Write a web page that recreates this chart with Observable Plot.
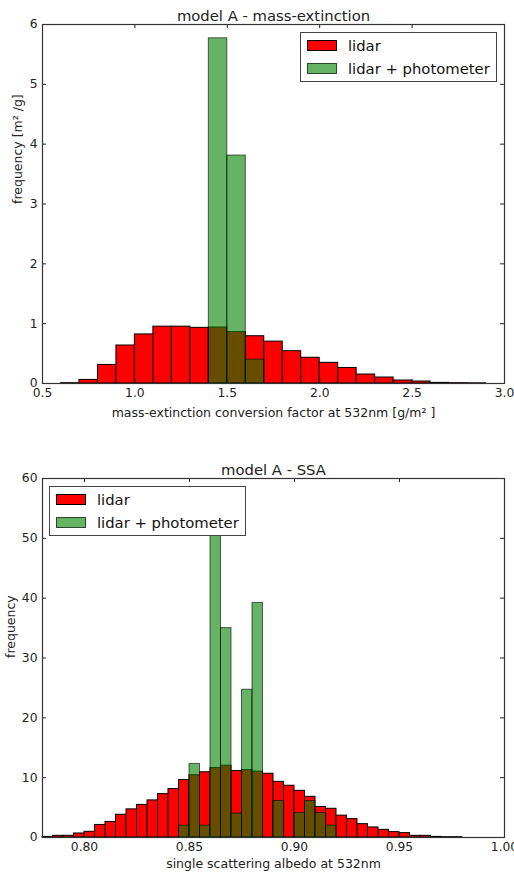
<!DOCTYPE html>
<html><head><meta charset="utf-8">
<script src="https://cdn.jsdelivr.net/npm/d3@7"></script>
<script src="https://cdn.jsdelivr.net/npm/@observablehq/plot@0.6"></script>
<style>
body{margin:0;background:#fff;font-family:"DejaVu Sans",sans-serif;}
#wrap{position:relative;width:514px;height:875px;overflow:hidden;}
.panel{position:relative;width:514px;}
.panel svg{display:block;}
.legend{position:absolute;border:1px solid #444;background:#fff;box-sizing:border-box;font:14.8px "DejaVu Sans",sans-serif;color:#111;}
.item{position:absolute;left:6px;display:flex;align-items:center;white-space:nowrap;}
.sw{width:30px;height:11px;box-sizing:border-box;margin-right:11px;}
</style></head>
<body><div id="wrap"></div>
<script>
// ---------- data: panel 1 (mass-extinction) ----------
const meTitle = "model A - mass-extinction";
const meXLabel = "mass-extinction conversion factor at 532nm [g/m² ]";
const meYLabel = "frequency [m² /g]";
const meBinWidth = 0.1;
const meRedLo = [0.6,0.7,0.8,0.9,1.0,1.1,1.2,1.3,1.4,1.5,1.6,1.7,1.8,1.9,2.0,2.1,2.2,2.3,2.4,2.5,2.6,2.7,2.8];
const meRedVal = [0.005,0.06,0.31,0.635,0.82,0.95,0.95,0.93,0.935,0.86,0.79,0.70,0.54,0.43,0.345,0.26,0.15,0.10,0.05,0.033,0.01,0.005,0.003];
const meGreenLo = [1.4,1.5,1.6];
const meGreenVal = [5.77,3.81,0.40];
const meXTicks = [0.5,1.0,1.5,2.0,2.5,3.0];
const meYTicks = [0,1,2,3,4,5,6];

// ---------- data: panel 2 (SSA) ----------
const ssaTitle = "model A - SSA";
const ssaXLabel = "single scattering albedo at 532nm";
const ssaYLabel = "frequency";
const ssaBinWidth = 0.005;
const ssaRedLo = [0.78,0.785,0.79,0.795,0.80,0.805,0.81,0.815,0.82,0.825,0.83,0.835,0.84,0.845,0.85,0.855,0.86,0.865,0.87,0.875,0.88,0.885,0.89,0.895,0.90,0.905,0.91,0.915,0.92,0.925,0.93,0.935,0.94,0.945,0.95,0.955,0.96,0.965,0.97,0.975];
const ssaRedVal = [0.1,0.28,0.28,0.67,0.95,2.1,2.6,3.8,4.7,5.45,6.2,7.25,8.1,9.6,10.4,10.9,11.6,12.0,11.1,11.25,11.0,10.65,9.3,8.65,7.8,6.8,5.1,4.8,3.65,3.07,2.23,1.68,1.28,0.9,0.73,0.28,0.28,0.1,0.05,0.05];
const ssaGreenLo = [0.845,0.85,0.855,0.86,0.865,0.87,0.875,0.88,0.885,0.89,0.895,0.90,0.905,0.91,0.915];
const ssaGreenVal = [2.0,12.3,2.0,52,35.0,4.0,24.7,39.2,0,6.1,0,4.1,6.1,4.1,2.0];
const ssaXTicks = [0.80,0.85,0.90,0.95,1.00];
const ssaYTicks = [0,10,20,30,40,50,60];

const seriesNames = ["lidar","lidar + photometer"];

function bins(lo, val, w){ return lo.map((x,i)=>({x1:x, x2:x+w, y:val[i]})); }

function panel(cfg){
  const {red, green, xDomain, yDomain, xTicks, yTicks, xFmt, title, xLabel, yLabel,
         height, mt, mb, ml, mr, yLabelDx, xLabelDy, legend} = cfg;
  const width = 514;
  const plotH = height - mt - mb, plotW = width - ml - mr;
  const ink = "#222";
  const chart = Plot.plot({
    width, height, marginTop: mt, marginBottom: mb, marginLeft: ml, marginRight: mr,
    style: {fontFamily: "DejaVu Sans, sans-serif", fontSize: "12px", color: ink, background: "white", overflow: "visible"},
    x: {domain: xDomain},
    y: {domain: yDomain},
    marks: [
      Plot.rectY(red, {x1:"x1", x2:"x2", y:"y", fill:"red", stroke:"black", strokeWidth:1}),
      Plot.rectY(green, {x1:"x1", x2:"x2", y:"y", fill:"green", fillOpacity:0.6, stroke:"black", strokeOpacity:0.6, strokeWidth:1}),
      Plot.ruleX(xTicks, {x:d=>d, insetTop: plotH-4, stroke: ink}),
      Plot.ruleX(xTicks, {x:d=>d, insetBottom: plotH-4, stroke: ink}),
      Plot.ruleY(yTicks, {y:d=>d, insetRight: plotW-4, stroke: ink}),
      Plot.ruleY(yTicks, {y:d=>d, insetLeft: plotW-4, stroke: ink}),
      Plot.frame({stroke: "#333", strokeWidth: 1.2}),
      Plot.axisX(xTicks, {tickSize:0, tickPadding:5, tickFormat: d3.format(xFmt), label:null, fontSize:12.3, fill: ink}),
      Plot.axisY(yTicks, {tickSize:0, tickPadding:5, tickFormat: d3.format("d"), label:null, fontSize:12.3, fill: ink}),
      Plot.text([title], {frameAnchor:"top", dy:-4, lineAnchor:"bottom", fontSize:14.8, fill: ink}),
      Plot.text([xLabel], {frameAnchor:"bottom", dy:xLabelDy, lineAnchor:"middle", fontSize:12.5, fill: ink}),
      Plot.text([yLabel], {frameAnchor:"left", dx:yLabelDx, rotate:-90, lineAnchor:"middle", fontSize:12.5, fill: ink})
    ]
  });
  const div = document.createElement("div");
  div.className = "panel";
  div.style.height = height + "px";
  div.appendChild(chart);
  // legend overlay
  const lg = document.createElement("div");
  lg.className = "legend";
  Object.assign(lg.style, {left: legend.left+"px", top: legend.top+"px", width: "197px", height: "50px"});
  const styles = [
    {background:"red", border:"1px solid black"},
    {background:"rgba(0,128,0,0.6)", border:"1px solid rgba(0,0,0,0.6)"}
  ];
  seriesNames.forEach((name,i)=>{
    const it = document.createElement("div");
    it.className = "item";
    it.style.top = (1 + i*23) + "px";
    it.style.height = "22px";
    const sw = document.createElement("span");
    sw.className = "sw";
    Object.assign(sw.style, styles[i]);
    const tx = document.createElement("span");
    tx.textContent = name;
    it.appendChild(sw); it.appendChild(tx);
    lg.appendChild(it);
  });
  div.appendChild(lg);
  return div;
}

const wrap = document.getElementById("wrap");
wrap.appendChild(panel({
  red: bins(meRedLo, meRedVal, meBinWidth), green: bins(meGreenLo, meGreenVal, meBinWidth),
  xDomain:[0.5,3.0], yDomain:[0,6], xTicks: meXTicks, yTicks: meYTicks, xFmt: ".1f",
  title: meTitle, xLabel: meXLabel, yLabel: meYLabel,
  height: 437, mt: 24, mb: 54, ml: 42, mr: 10, yLabelDx: -25, xLabelDy: 29,
  legend: {left: 300, top: 32}
}));
wrap.appendChild(panel({
  red: bins(ssaRedLo, ssaRedVal, ssaBinWidth), green: bins(ssaGreenLo, ssaGreenVal, ssaBinWidth),
  xDomain:[0.78,1.0], yDomain:[0,60], xTicks: ssaXTicks, yTicks: ssaYTicks, xFmt: ".2f",
  title: ssaTitle, xLabel: ssaXLabel, yLabel: ssaYLabel,
  height: 438, mt: 41, mb: 38, ml: 42, mr: 10, yLabelDx: -32, xLabelDy: 26,
  legend: {left: 49, top: 49}
}));
</script></body></html>
